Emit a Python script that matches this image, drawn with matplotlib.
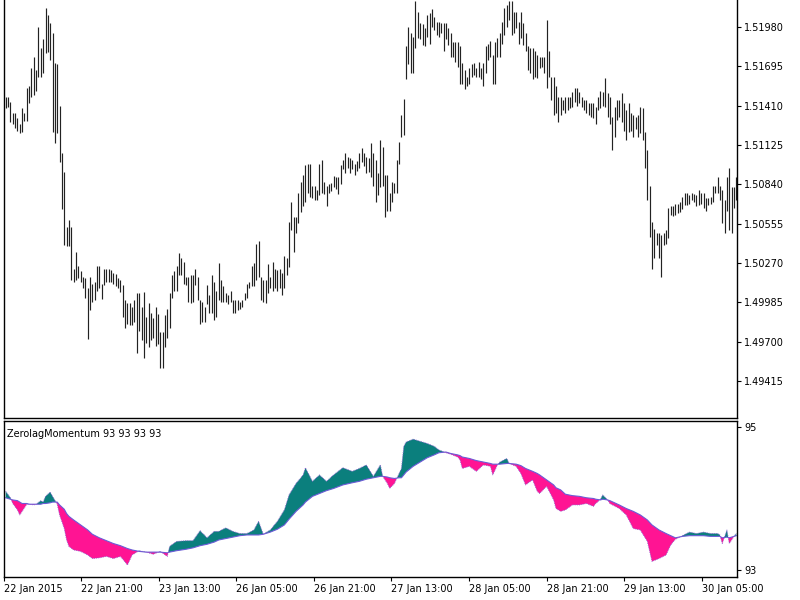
import numpy as np
import matplotlib
matplotlib.use("Agg")
import matplotlib.pyplot as plt

# ---------------- price bars (M30, high / low) ----------------
high = [1.5147, 1.5147, 1.5144, 1.5136, 1.5136, 1.5132, 1.5128, 1.5139, 1.5136, 1.5154,
        1.5155, 1.5168, 1.5176, 1.5167, 1.5198, 1.5183, 1.5189, 1.5212, 1.5207, 1.5201,
        1.5194, 1.5172, 1.5171, 1.5141, 1.5107, 1.5093, 1.5053, 1.5058, 1.5053, 1.5023,
        1.5035, 1.5025, 1.5021, 1.5017, 1.5016, 1.5009, 1.5017, 1.5012, 1.5013, 1.5025,
        1.5025, 1.5012, 1.5023, 1.5023, 1.5023, 1.5022, 1.5020, 1.5019, 1.5016, 1.5015,
        1.5011, 1.5000, 1.4998, 1.4998, 1.4995, 1.5000, 1.5005, 1.5005, 1.4995, 1.5006,
        1.4988, 1.4998, 1.4991, 1.4987, 1.4995, 1.4990, 1.4977, 1.4977, 1.4989, 1.4994,
        1.5005, 1.5018, 1.5021, 1.5025, 1.5034, 1.5031, 1.5028, 1.5017, 1.5017, 1.5018,
        1.5018, 1.5023, 1.5017, 1.5000, 1.4999, 1.4995, 1.5011, 1.5004, 1.5018, 1.5013,
        1.5007, 1.5027, 1.5015, 1.5010, 1.5005, 1.5004, 1.5007, 1.5000, 1.5000, 1.5000,
        1.4999, 1.5000, 1.5005, 1.5012, 1.5013, 1.5025, 1.5027, 1.5041, 1.5043, 1.5017,
        1.5015, 1.5015, 1.5026, 1.5017, 1.5028, 1.5023, 1.5022, 1.5023, 1.5020, 1.5032,
        1.5031, 1.5057, 1.5071, 1.5060, 1.5060, 1.5078, 1.5086, 1.5091, 1.5098, 1.5099,
        1.5099, 1.5083, 1.5083, 1.5080, 1.5099, 1.5102, 1.5086, 1.5083, 1.5084, 1.5085,
        1.5090, 1.5089, 1.5089, 1.5098, 1.5102, 1.5107, 1.5104, 1.5103, 1.5102, 1.5099,
        1.5101, 1.5107, 1.5110, 1.5107, 1.5104, 1.5103, 1.5114, 1.5107, 1.5102, 1.5092,
        1.5116, 1.5111, 1.5091, 1.5091, 1.5078, 1.5086, 1.5085, 1.5102, 1.5115, 1.5134,
        1.5146, 1.5184, 1.5198, 1.5194, 1.5191, 1.5217, 1.5209, 1.5201, 1.5200, 1.5197,
        1.5207, 1.5208, 1.5211, 1.5205, 1.5202, 1.5202, 1.5201, 1.5201, 1.5201, 1.5197,
        1.5194, 1.5187, 1.5187, 1.5187, 1.5184, 1.5172, 1.5167, 1.5162, 1.5168, 1.5171,
        1.5172, 1.5168, 1.5173, 1.5168, 1.5172, 1.5184, 1.5186, 1.5188, 1.5178, 1.5187,
        1.5190, 1.5194, 1.5202, 1.5212, 1.5214, 1.5217, 1.5217, 1.5209, 1.5209, 1.5202,
        1.5209, 1.5201, 1.5194, 1.5184, 1.5183, 1.5183, 1.5181, 1.5178, 1.5176, 1.5176,
        1.5176, 1.5203, 1.5181, 1.5162, 1.5162, 1.5155, 1.5147, 1.5147, 1.5145, 1.5147,
        1.5147, 1.5147, 1.5151, 1.5154, 1.5154, 1.5151, 1.5147, 1.5145, 1.5145, 1.5143,
        1.5143, 1.5143, 1.5140, 1.5147, 1.5152, 1.5151, 1.5161, 1.5150, 1.5147, 1.5133,
        1.5140, 1.5145, 1.5145, 1.5150, 1.5143, 1.5138, 1.5143, 1.5136, 1.5134, 1.5133,
        1.5134, 1.5140, 1.5139, 1.5122, 1.5109, 1.5083, 1.5057, 1.5052, 1.5049, 1.5049,
        1.5047, 1.5049, 1.5051, 1.5067, 1.5068, 1.5068, 1.5070, 1.5070, 1.5071, 1.5075,
        1.5078, 1.5078, 1.5076, 1.5078, 1.5077, 1.5076, 1.5080, 1.5078, 1.5078, 1.5074,
        1.5074, 1.5075, 1.5083, 1.5083, 1.5089, 1.5083, 1.5080, 1.5073, 1.5089, 1.5096,
        1.5082, 1.5082, 1.5089]

low = [1.5139, 1.5140, 1.5129, 1.5128, 1.5125, 1.5123, 1.5121, 1.5122, 1.5130, 1.5130,
       1.5143, 1.5147, 1.5149, 1.5152, 1.5162, 1.5162, 1.5165, 1.5179, 1.5180, 1.5174,
       1.5122, 1.5114, 1.5121, 1.5100, 1.5066, 1.5040, 1.5039, 1.5039, 1.5015, 1.5013,
       1.5015, 1.5016, 1.5013, 1.5009, 1.5002, 1.4972, 1.4993, 1.4999, 1.5000, 1.5007,
       1.5009, 1.5001, 1.5011, 1.5013, 1.5013, 1.5013, 1.5012, 1.5010, 1.5009, 1.5006,
       1.4988, 1.4980, 1.4983, 1.4982, 1.4982, 1.4984, 1.4962, 1.4978, 1.4971, 1.4958,
       1.4969, 1.4966, 1.4971, 1.4973, 1.4967, 1.4968, 1.4951, 1.4951, 1.4966, 1.4973,
       1.4980, 1.5002, 1.5007, 1.5007, 1.5018, 1.5018, 1.5012, 1.5011, 1.4999, 1.4998,
       1.4999, 1.5011, 1.5000, 1.4983, 1.4984, 1.4984, 1.4997, 1.4991, 1.4991, 1.4986,
       1.4988, 1.5000, 1.4999, 1.4999, 1.4999, 1.4997, 1.4999, 1.4991, 1.4991, 1.4993,
       1.4994, 1.4995, 1.5000, 1.5002, 1.5009, 1.5010, 1.5010, 1.5015, 1.5017, 1.5000,
       1.4999, 1.4998, 1.5005, 1.5009, 1.5007, 1.5009, 1.5007, 1.5009, 1.5004, 1.5009,
       1.5018, 1.5024, 1.5051, 1.5035, 1.5049, 1.5056, 1.5064, 1.5068, 1.5071, 1.5078,
       1.5075, 1.5074, 1.5073, 1.5073, 1.5076, 1.5078, 1.5077, 1.5068, 1.5078, 1.5079,
       1.5082, 1.5081, 1.5077, 1.5084, 1.5095, 1.5092, 1.5096, 1.5092, 1.5095, 1.5091,
       1.5094, 1.5096, 1.5100, 1.5097, 1.5092, 1.5093, 1.5089, 1.5083, 1.5071, 1.5076,
       1.5082, 1.5083, 1.5060, 1.5065, 1.5065, 1.5071, 1.5078, 1.5078, 1.5099, 1.5118,
       1.5120, 1.5160, 1.5171, 1.5165, 1.5165, 1.5183, 1.5190, 1.5189, 1.5185, 1.5184,
       1.5191, 1.5186, 1.5198, 1.5196, 1.5192, 1.5191, 1.5194, 1.5181, 1.5189, 1.5185,
       1.5176, 1.5176, 1.5173, 1.5169, 1.5157, 1.5157, 1.5153, 1.5155, 1.5157, 1.5162,
       1.5163, 1.5162, 1.5162, 1.5160, 1.5155, 1.5165, 1.5174, 1.5176, 1.5157, 1.5157,
       1.5176, 1.5176, 1.5186, 1.5192, 1.5198, 1.5203, 1.5192, 1.5194, 1.5197, 1.5186,
       1.5190, 1.5185, 1.5181, 1.5167, 1.5165, 1.5160, 1.5162, 1.5161, 1.5168, 1.5169,
       1.5165, 1.5154, 1.5162, 1.5145, 1.5134, 1.5136, 1.5129, 1.5134, 1.5138, 1.5136,
       1.5138, 1.5139, 1.5140, 1.5144, 1.5141, 1.5143, 1.5140, 1.5138, 1.5136, 1.5134,
       1.5133, 1.5132, 1.5128, 1.5138, 1.5139, 1.5141, 1.5140, 1.5133, 1.5128, 1.5109,
       1.5118, 1.5131, 1.5133, 1.5129, 1.5123, 1.5116, 1.5122, 1.5123, 1.5118, 1.5124,
       1.5118, 1.5121, 1.5116, 1.5096, 1.5073, 1.5046, 1.5023, 1.5031, 1.5040, 1.5031,
       1.5017, 1.5040, 1.5041, 1.5045, 1.5062, 1.5061, 1.5062, 1.5063, 1.5064, 1.5066,
       1.5069, 1.5069, 1.5070, 1.5073, 1.5071, 1.5068, 1.5069, 1.5070, 1.5067, 1.5065,
       1.5069, 1.5070, 1.5071, 1.5078, 1.5078, 1.5073, 1.5056, 1.5049, 1.5065, 1.5051,
       1.5049, 1.5067, 1.5073]

price_ticks = [1.51980, 1.51695, 1.51410, 1.51125, 1.50840,
               1.50555, 1.50270, 1.49985, 1.49700, 1.49415]

# ---------------- ZerolagMomentum indicator ----------------
ind_bar = [0, 2, 3, 5, 6, 7, 9, 10, 12, 13, 15, 16, 17, 19, 20, 22, 23, 25, 26, 27,
           29, 32, 35, 37, 40, 43, 46, 49, 52, 54, 57, 60, 63, 66, 69, 70, 73, 77, 80, 83,
           86, 89, 91, 94, 97, 100, 103, 106, 108, 110, 113, 116, 119, 121, 124, 127, 128, 131, 134, 137,
           140, 144, 148, 151, 154, 157, 160, 161, 163, 164, 166, 168, 169, 170, 171, 174, 177, 180, 183, 185,
           188, 190, 193, 194, 195, 198, 201, 204, 207, 208, 210, 211, 214, 215, 218, 220, 222, 225, 227, 228,
           231, 234, 235, 237, 239, 242, 245, 248, 251, 252, 254, 255, 257, 258, 262, 265, 268, 271, 274, 276,
           279, 282, 284, 286, 289, 292, 295, 298, 301, 304, 305, 306, 308, 309, 311, 312]

fast = [94.10, 94.01, 93.93, 93.84, 93.77, 93.82, 93.92, 93.92, 93.91, 93.92,
        93.97, 93.95, 94.03, 94.09, 94.03, 93.92, 93.77, 93.58, 93.42, 93.33,
        93.28, 93.26, 93.21, 93.16, 93.17, 93.19, 93.16, 93.19, 93.07, 93.21,
        93.27, 93.25, 93.22, 93.26, 93.19, 93.33, 93.40, 93.41, 93.41, 93.55,
        93.45, 93.54, 93.54, 93.59, 93.54, 93.51, 93.51, 93.56, 93.68, 93.50,
        93.56, 93.68, 93.84, 94.05, 94.21, 94.33, 94.43, 94.24, 94.33, 94.24,
        94.33, 94.43, 94.38, 94.42, 94.47, 94.31, 94.47, 94.31, 94.21, 94.14,
        94.21, 94.35, 94.42, 94.73, 94.79, 94.83, 94.80, 94.77, 94.73, 94.68,
        94.64, 94.62, 94.58, 94.54, 94.42, 94.45, 94.38, 94.47, 94.45, 94.33,
        94.47, 94.51, 94.56, 94.49, 94.45, 94.35, 94.19, 94.26, 94.10, 94.07,
        94.17, 93.98, 93.86, 93.82, 93.84, 93.91, 93.91, 93.93, 93.89, 93.93,
        93.99, 94.05, 93.98, 93.93, 93.86, 93.77, 93.58, 93.56, 93.40, 93.12,
        93.16, 93.21, 93.35, 93.43, 93.48, 93.53, 93.51, 93.53, 93.51, 93.51,
        93.49, 93.37, 93.56, 93.37, 93.47, 93.51]

slow = [94.01, 93.99, 93.98, 93.97, 93.95, 93.93, 93.93, 93.92, 93.92, 93.92,
        93.92, 93.93, 93.93, 93.94, 93.95, 93.95, 93.91, 93.85, 93.79, 93.75,
        93.70, 93.63, 93.56, 93.50, 93.45, 93.41, 93.37, 93.34, 93.30, 93.28,
        93.26, 93.25, 93.25, 93.25, 93.24, 93.25, 93.27, 93.29, 93.31, 93.34,
        93.36, 93.39, 93.42, 93.44, 93.46, 93.48, 93.49, 93.49, 93.49, 93.50,
        93.53, 93.57, 93.63, 93.71, 93.82, 93.91, 93.95, 94.03, 94.07, 94.11,
        94.14, 94.19, 94.22, 94.24, 94.27, 94.29, 94.31, 94.31, 94.30, 94.29,
        94.28, 94.29, 94.29, 94.33, 94.37, 94.45, 94.51, 94.57, 94.61, 94.64,
        94.65, 94.63, 94.61, 94.60, 94.58, 94.56, 94.53, 94.51, 94.49, 94.48,
        94.48, 94.48, 94.49, 94.49, 94.48, 94.46, 94.42, 94.38, 94.35, 94.33,
        94.26, 94.19, 94.15, 94.12, 94.06, 94.04, 94.03, 94.01, 94.00, 93.99,
        93.98, 93.99, 93.98, 93.97, 93.91, 93.86, 93.82, 93.77, 93.70, 93.63,
        93.56, 93.51, 93.48, 93.45, 93.47, 93.48, 93.48, 93.48, 93.47, 93.47,
        93.47, 93.45, 93.46, 93.45, 93.47, 93.48]

ind_ticks = [95, 93]
indicator_name = "ZerolagMomentum 93 93 93 93"

time_labels = ["22 Jan 2015", "22 Jan 21:00", "23 Jan 13:00", "26 Jan 05:00",
               "26 Jan 21:00", "27 Jan 13:00", "28 Jan 05:00", "28 Jan 21:00",
               "29 Jan 13:00", "30 Jan 05:00"]

# ---------------- drawing ----------------
plt.rcParams['font.family'] = ['DejaVu Sans']
fig = plt.figure(figsize=(8, 6), dpi=100)
fig.patch.set_facecolor('white')

ax = fig.add_axes([4/800, 1 - 418/600, 733/800, 418/600])
ax2 = fig.add_axes([4/800, 1 - 577/600, 733/800, 156/600])

n = len(high)
idx = np.arange(n)
xlim = (-0.73, 312.3)

ax.vlines(idx, low, high, color='#222222', lw=0.85)
ax.set_xlim(*xlim)
ax.set_ylim(1.49147, 1.52176)
ax.yaxis.tick_right()
ax.set_yticks(price_ticks)
ax.set_yticklabels([f"{v:.5f}" for v in price_ticks])
ax.tick_params(axis='y', direction='out', length=3, width=0.8, labelsize=7, pad=2, colors='black')
ax.set_xticks([])
ax.spines['top'].set_visible(False)
for s in ['left', 'right', 'bottom']:
    ax.spines[s].set_linewidth(1.0)
    ax.spines[s].set_color('black')

fx = np.array(ind_bar)
f = np.array(fast)
s = np.array(slow)
ax2.fill_between(fx, f, s, where=f >= s, interpolate=True, color='#0b7f7d', lw=0)
ax2.fill_between(fx, f, s, where=f < s, interpolate=True, color='#ff1493', lw=0)
ax2.plot(fx, s, color='#6b5bd6', lw=0.8)
ax2.plot(fx, f, color='#8a5ad0', lw=0.6, ls=(0, (1, 1.2)))
ax2.set_xlim(*xlim)
ax2.set_ylim(92.902, 95.084)
ax2.yaxis.tick_right()
ax2.set_yticks(ind_ticks)
ax2.set_yticklabels([str(v) for v in ind_ticks])
ax2.tick_params(axis='y', direction='out', length=3, width=0.8, labelsize=7, pad=2)
tick_pos = [-0.73, 32.2, 65.5, 98.3, 131.6, 164.5, 197.8, 231.1, 264.0, 297.3]
ax2.set_xticks(tick_pos)
ax2.set_xticklabels(time_labels, ha='left')
ax2.tick_params(axis='x', direction='out', length=3, width=0.8, labelsize=7, pad=2)
for sp in ax2.spines.values():
    sp.set_linewidth(1.0)
    sp.set_color('black')
ax2.text(0.004, 0.95, indicator_name, transform=ax2.transAxes, fontsize=7,
         ha='left', va='top', color='black')

fig.savefig("out.png", dpi=100, facecolor='white')
